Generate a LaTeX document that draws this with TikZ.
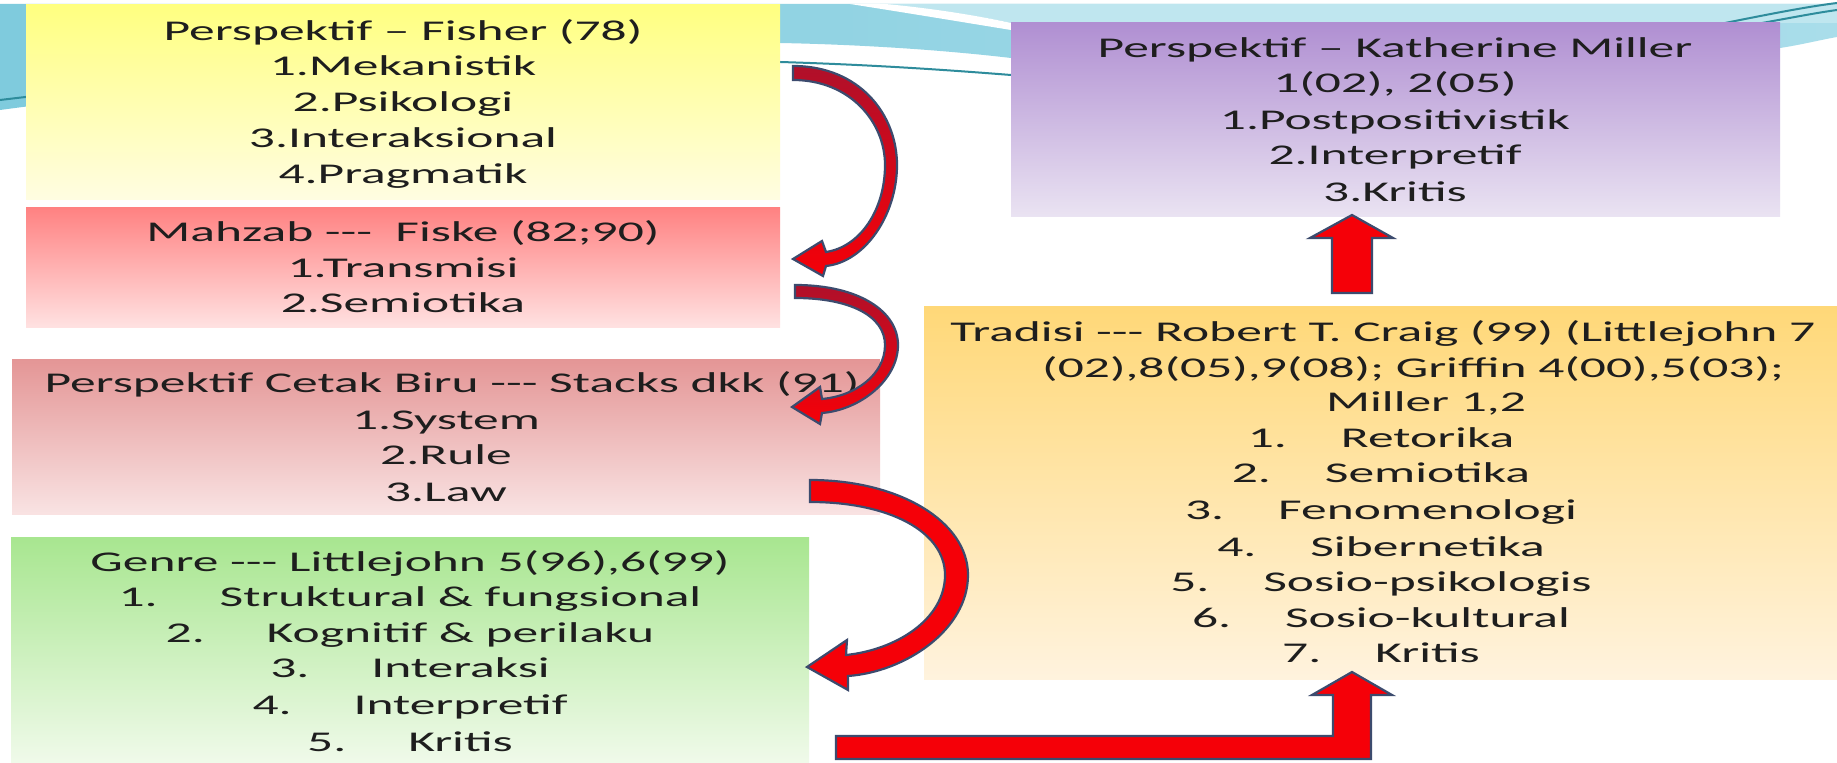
\documentclass[tikz,border=0pt]{standalone}
\usepackage{fontspec}
\setmainfont{Carlito}[FakeStretch=1.8]
\definecolor{txtc}{HTML}{1E1E1E}
\definecolor{yTop}{HTML}{FFFF80}
\definecolor{yBot}{HTML}{FFFDE2}
\definecolor{p1Top}{HTML}{FF8282}
\definecolor{p1Bot}{HTML}{FFE2E2}
\definecolor{p2Top}{HTML}{E49696}
\definecolor{p2Bot}{HTML}{F9E3E3}
\definecolor{gTop}{HTML}{A8E690}
\definecolor{gBot}{HTML}{F0FAEA}
\definecolor{vTop}{HTML}{B08FD2}
\definecolor{vBot}{HTML}{EAE3F2}
\definecolor{oTop}{HTML}{FFD878}
\definecolor{oBot}{HTML}{FFF3DE}
\definecolor{arrRed}{HTML}{F50008}
\definecolor{arrDark}{HTML}{B0102A}
\definecolor{arrLine}{HTML}{3C4B6E}
\definecolor{swA}{HTML}{7FCBDD}
\definecolor{swB}{HTML}{A9DDEA}
\definecolor{swC}{HTML}{BFE6EF}
\definecolor{teal}{HTML}{2E8C9C}
\tikzset{
  box/.style={rectangle, draw=none, inner sep=0pt},
  txt/.style={anchor=base, inner sep=0pt, text=txtc, font=\fontsize{14.3pt}{17.85pt}\selectfont},
  blockarrow/.style={draw=arrLine, line width=1.1pt, fill=arrRed, line join=miter},
  tealline/.style={teal, line width=1pt},
}
\newcommand\gapG{\hspace{31pt}}
\newcommand\gapO{\hspace{27pt}}
\begin{document}
\begin{tikzpicture}[x=0.5pt,y=-0.5pt]
\useasboundingbox (0,0) rectangle (1837,763);
\fill[white] (0,0) rectangle (1837,763);
% background swoosh
\shade[left color=swA, right color=swB] (0,4) -- (0,110) .. controls (300,70) and (600,45) .. (780,43)
  .. controls (880,45) and (960,52) .. (1011,58) -- (1011,40) .. controls (1300,35) and (1600,40) .. (1780,48)
  .. controls (1800,45) and (1820,40) .. (1837,37) -- (1837,4) -- cycle;
\fill[swC] (880,4) .. controls (940,10) and (990,18) .. (1011,23) -- (1837,23) -- (1837,4) -- cycle;
\fill[white] (850,4) .. controls (920,15) and (980,25) .. (1011,30) -- (1011,23) .. controls (980,16) and (930,8) .. (885,4) -- cycle;
\draw[tealline] (0,100) .. controls (300,64) and (600,58) .. (780,62) .. controls (880,65) and (960,71) .. (1011,75);
\draw[tealline] (1715,25) .. controls (1770,14) and (1805,7) .. (1837,3);
\draw[tealline] (1740,27) .. controls (1790,18) and (1815,13) .. (1837,10);
% boxes
\node[box, top color=yTop, bottom color=yBot, minimum width=377pt, minimum height=97.5pt] (fisher) at (403,102.5) {};
\node[box, top color=p1Top, bottom color=p1Bot, minimum width=377pt, minimum height=60pt] (fiske) at (403,268) {};
\node[box, top color=p2Top, bottom color=p2Bot, minimum width=434pt, minimum height=77.5pt] (stacks) at (446,437.5) {};
\node[box, top color=gTop, bottom color=gBot, minimum width=399pt, minimum height=112.5pt] (genre) at (410,650.5) {};
\node[box, top color=vTop, bottom color=vBot, minimum width=384.5pt, minimum height=97pt] (miller) at (1395.5,120) {};
\node[box, top color=oTop, bottom color=oBot, minimum width=456.5pt, minimum height=186.5pt] (craig) at (1380.5,493.5) {};
% texts: Fisher
\node[txt] (f0) at (403,41) {Perspektif – Fisher (78)};
\node[txt] (f1) at (403,76) {1.Mekanistik};
\node[txt] (f2) at (403,112) {2.Psikologi};
\node[txt] (f3) at (403,148) {3.Interaksional};
\node[txt] (f4) at (403,184) {4.Pragmatik};
% Fiske
\node[txt] (k0) at (403,242) {Mahzab -{}-{}-\ \ Fiske (82;90)};
\node[txt] (k1) at (403,278) {1.Transmisi};
\node[txt] (k2) at (403,313) {2.Semiotika};
% Stacks
\node[txt] (s0) at (452,393) {Perspektif Cetak Biru -{}-{}- Stacks dkk (91)};
\node[txt] (s1) at (446,430) {1.System};
\node[txt] (s2) at (446,465) {2.Rule};
\node[txt] (s3) at (446,502) {3.Law};
% Genre
\node[txt] (g0) at (410,572) {Genre -{}-{}- Littlejohn 5(96),6(99)};
\node[txt] (g1) at (410,607) {1.\gapG Struktural \& fungsional};
\node[txt] (g2) at (410,643) {2.\gapG Kognitif \& perilaku};
\node[txt] (g3) at (410,678) {3.\gapG Interaksi};
\node[txt] (g4) at (410,715) {4.\gapG Interpretif};
\node[txt] (g5) at (410,752) {5.\gapG Kritis};
% Miller
\node[txt] (m0) at (1395,58) {Perspektif – Katherine Miller};
\node[txt] (m1) at (1395,93) {1(02), 2(05)};
\node[txt] (m2) at (1395,130) {1.Postpositivistik};
\node[txt] (m3) at (1395,165) {2.Interpretif};
\node[txt] (m4) at (1395,202) {3.Kritis};
% Craig
\node[txt] (c0) at (1383,342) {Tradisi -{}-{}- Robert T. Craig (99) (Littlejohn 7};
\node[txt] (c1) at (1413,378) {(02),8(05),9(08); Griffin 4(00),5(03);};
\node[txt] (c2) at (1426,412) {Miller 1,2};
\node[txt] (c3) at (1381,448) {1.\gapO Retorika};
\node[txt] (c4) at (1381,483) {2.\gapO Semiotika};
\node[txt] (c5) at (1381,520) {3.\gapO Fenomenologi};
\node[txt] (c6) at (1381,557) {4.\gapO Sibernetika};
\node[txt] (c7) at (1381,592) {5.\gapO Sosio-psikologis};
\node[txt] (c8) at (1381,628) {6.\gapO Sosio-kultural};
\node[txt] (c9) at (1381,663) {7.\gapO Kritis};
% curved arrow Fisher -> Fiske
\path[blockarrow, top color=arrDark, bottom color=arrRed]
  (793,66) .. controls (860,66) and (897,115) .. (897,165)
  .. controls (897,215) and (865,262) .. (826,266) -- (823,276) -- (793,259) -- (822,241) -- (826,252)
  .. controls (860,247) and (885,210) .. (885,165) .. controls (885,122) and (850,80) .. (793,80) -- cycle;
% curved arrow Fiske -> Stacks
\path[blockarrow, top color=arrDark, bottom color=arrRed]
  (795,285) .. controls (860,285) and (898,312) .. (898,345)
  .. controls (898,380) and (860,410) .. (822,413) -- (820,424) -- (792,407) -- (820,387) -- (822,399)
  .. controls (855,396) and (885,375) .. (885,345) .. controls (885,316) and (850,298) .. (795,298) -- cycle;
% curved arrow Stacks -> Genre
\path[blockarrow]
  (810,480) .. controls (900,480) and (968,522) .. (968,575)
  .. controls (968,630) and (905,672) .. (848,676) -- (848,690) -- (807,667) -- (847,640) -- (846,655)
  .. controls (895,650) and (945,620) .. (945,575) .. controls (945,532) and (890,502) .. (810,502) -- cycle;
% bent arrow Genre -> Craig
\path[blockarrow] (836,736) -- (1333,736) -- (1333,695) -- (1312,695) -- (1352,672) -- (1392,695)
  -- (1371,695) -- (1371,759) -- (836,759) -- cycle;
% up arrow Craig -> Miller
\path[blockarrow] (1332,293) -- (1332,238) -- (1310,238) -- (1352,215) -- (1393,238) -- (1372,238)
  -- (1372,293) -- cycle;
\end{tikzpicture}
\end{document}
